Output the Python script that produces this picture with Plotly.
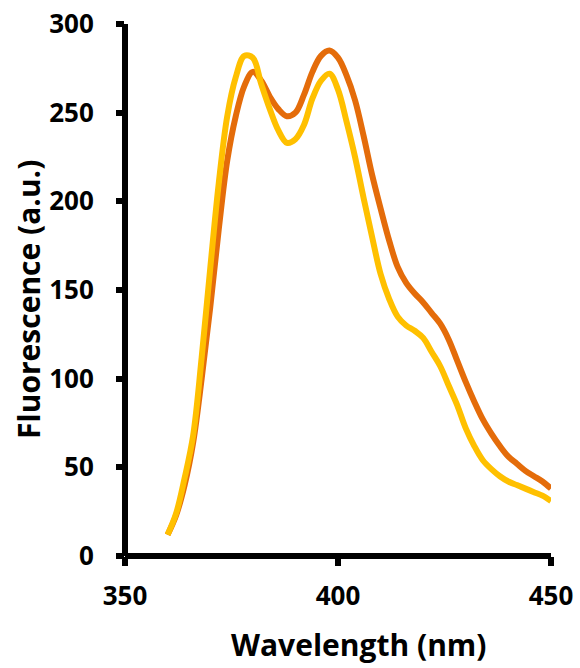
import plotly.graph_objects as go

# Emission spectra, sampled every 2 nm
wavelength = list(range(360, 452, 2))

orange_series = [12, 23, 40, 64, 100, 140, 184, 223, 248, 265, 273, 268, 259, 252, 248,
                 250, 260, 273, 282, 285, 281, 271, 257, 237, 215, 196, 178, 163, 154, 148,
                 143, 137, 131, 122, 110, 98, 87, 77, 69, 62, 56, 52, 48, 45, 42, 38]

yellow_series = [12, 24, 44, 68, 112, 162, 210, 248, 270, 282, 281, 266, 252, 240, 233,
                 235, 243, 258, 268, 272, 263, 245, 225, 202, 180, 159, 145, 135, 130, 127,
                 123, 115, 107, 96, 85, 72, 62, 54, 49, 45, 42, 40, 38, 36, 34, 31]

x_ticks = [350, 400, 450]
y_ticks = [0, 50, 100, 150, 200, 250, 300]

FONT = "Open Sans"
ORANGE = "#E46C0A"
YELLOW = "#FFC000"

fig = go.Figure()
fig.add_trace(go.Scatter(x=wavelength, y=orange_series, mode="lines",
                         line=dict(color=ORANGE, width=6, shape="spline", smoothing=1.0),
                         showlegend=False))
fig.add_trace(go.Scatter(x=wavelength, y=yellow_series, mode="lines",
                         line=dict(color=YELLOW, width=6, shape="spline", smoothing=1.0),
                         showlegend=False))

tick_font = dict(family=FONT, size=26, color="black", weight=700)

fig.update_xaxes(range=[x_ticks[0], x_ticks[-1]], tickvals=x_ticks, showgrid=False,
                 zeroline=False, showline=False, ticks="outside", ticklen=9, tickwidth=6,
                 tickcolor="black", tickfont=tick_font, ticklabelstandoff=8)
fig.update_yaxes(range=[y_ticks[0], y_ticks[-1]], tickvals=y_ticks, showgrid=False,
                 zeroline=False, showline=False, ticks="outside", ticklen=8, tickwidth=6,
                 tickcolor="black", tickfont=tick_font, ticklabelstandoff=17)

# Axis lines centred on the plot edges
axis_line = dict(color="black", width=6)
fig.add_shape(type="line", xref="paper", yref="paper", x0=0, x1=0, y0=0, y1=1,
              line=axis_line, layer="above")
fig.add_shape(type="line", xref="paper", yref="paper", x0=0, x1=1, y0=0, y1=0,
              line=axis_line, layer="above")

title_font = dict(family=FONT, size=30, color="black", weight=700)
fig.add_annotation(text="Wavelength (nm)", xref="paper", yref="paper", x=0.549, y=-0.166,
                   xanchor="center", yanchor="middle", showarrow=False, font=title_font)
fig.add_annotation(text="Fluorescence (a.u.)", xref="paper", yref="paper", x=-0.228, y=0.483,
                   xanchor="center", yanchor="middle", textangle=-90, showarrow=False,
                   font=title_font)

fig.update_layout(width=580, height=668, plot_bgcolor="white", paper_bgcolor="white",
                  margin=dict(l=125, r=29, t=23.5, b=111.5, autoexpand=False))

fig.write_html("out.html")
